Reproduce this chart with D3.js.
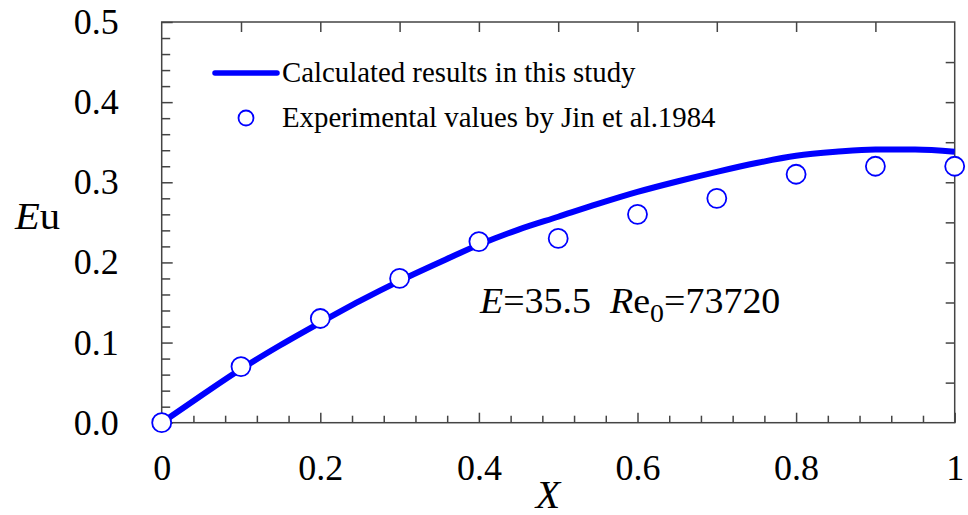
<!DOCTYPE html>
<html>
<head>
<meta charset="utf-8">
<script src="https://cdn.jsdelivr.net/npm/d3@7"></script>
</head>
<body style="margin:0">
<svg id="chart" width="968" height="515"></svg>
<script>
// ---- data ----
const calcX = [0, 0.05, 0.1, 0.15, 0.2, 0.25, 0.3, 0.35, 0.4, 0.45, 0.5, 0.55, 0.6, 0.65, 0.7, 0.75, 0.8, 0.85, 0.9, 0.95, 1.0];
const calcEu = [0, 0.034, 0.067, 0.097, 0.125, 0.152, 0.177, 0.200, 0.222, 0.241, 0.257, 0.273, 0.288, 0.301, 0.313, 0.324, 0.333, 0.338, 0.341, 0.341, 0.338];
const expX = [0, 0.1, 0.2, 0.3, 0.4, 0.5, 0.6, 0.7, 0.8, 0.9, 1.0];
const expEu = [0, 0.07, 0.13, 0.18, 0.226, 0.23, 0.26, 0.28, 0.31, 0.32, 0.32];
const xTickValues = [0, 0.2, 0.4, 0.6, 0.8, 1];
const xTickLabels = ["0", "0.2", "0.4", "0.6", "0.8", "1"];
const yTickValues = [0, 0.1, 0.2, 0.3, 0.4, 0.5];
const yTickLabels = ["0.0", "0.1", "0.2", "0.3", "0.4", "0.5"];
const legendLabels = ["Calculated results in this study", "Experimental values by Jin et al.1984"];

// ---- layout ----
const FSTYLE = "font-family:Liberation Serif";
const svg = d3.select("#chart");
const L = 161.7, R = 954.7, T = 22, B = 422.7;
const x = d3.scaleLinear().domain([0, 1]).range([L, R]);
const y = d3.scaleLinear().domain([0, 0.5]).range([B, T]);
const axisColor = "#444";
const blue = "#0000ff";

function styleAxis(g) {
  g.attr("font-family", null).attr("font-size", null);
  g.select(".domain").remove();
  g.selectAll(".tick line").attr("stroke", axisColor).attr("stroke-width", 1.5);
  g.selectAll(".tick text").attr("fill", "#000").attr("style", FSTYLE).attr("font-size", 36);
}

// minor ticks
const near = (v, arr) => arr.some(a => Math.abs(a - v) < 1e-9);
const xMinor = d3.range(0, 1.0001, 0.04).map(v => +v.toFixed(2)).filter(v => !near(v, xTickValues));
const yMinor = d3.range(0, 0.5001, 0.02).map(v => +v.toFixed(2)).filter(v => !near(v, yTickValues));

// bottom axis major
svg.append("g").attr("transform", `translate(0,${B})`)
  .call(d3.axisBottom(x).tickValues(xTickValues).tickFormat((d, i) => xTickLabels[i])
    .tickSizeInner(-10).tickSizeOuter(0).tickPadding(32))
  .call(styleAxis);
// bottom minor
svg.append("g").attr("transform", `translate(0,${B})`)
  .call(d3.axisBottom(x).tickValues(xMinor).tickFormat("").tickSizeInner(-7).tickSizeOuter(0))
  .call(styleAxis);
// left axis major
svg.append("g").attr("transform", `translate(${L},0)`)
  .call(d3.axisLeft(y).tickValues(yTickValues).tickFormat((d, i) => yTickLabels[i])
    .tickSizeInner(-11).tickSizeOuter(0).tickPadding(43))
  .call(styleAxis);
// left minor
svg.append("g").attr("transform", `translate(${L},0)`)
  .call(d3.axisLeft(y).tickValues(yMinor).tickFormat("").tickSizeInner(-8.5).tickSizeOuter(0))
  .call(styleAxis);
// top ticks
svg.append("g").attr("transform", `translate(0,${T})`)
  .call(d3.axisTop(x).tickValues(d3.range(0.1, 0.95, 0.1)).tickFormat("").tickSizeInner(-10).tickSizeOuter(0))
  .call(styleAxis);
// right ticks
svg.append("g").attr("transform", `translate(${R},0)`)
  .call(d3.axisRight(y).tickValues(d3.range(0.05, 0.5, 0.05)).tickFormat("").tickSizeInner(-9).tickSizeOuter(0))
  .call(styleAxis);

// frame
svg.append("rect").attr("x", L).attr("y", T).attr("width", R - L).attr("height", B - T)
  .attr("fill", "none").attr("stroke", axisColor).attr("stroke-width", 1.5);

// calculated curve
const calc = calcX.map((v, i) => [v, calcEu[i]]);
svg.append("path").datum(calc)
  .attr("d", d3.line().x(d => x(d[0])).y(d => y(d[1])).curve(d3.curveMonotoneX))
  .attr("fill", "none").attr("stroke", blue).attr("stroke-width", 6).attr("stroke-linecap", "butt");

// experimental points
const exp = expX.map((v, i) => [v, expEu[i]]);
svg.append("g").selectAll("circle").data(exp).join("circle")
  .attr("cx", d => x(d[0])).attr("cy", d => y(d[1])).attr("r", 9.5)
  .attr("fill", "#fff").attr("stroke", blue).attr("stroke-width", 1.8);

// legend
const lg = svg.append("g");
lg.append("line").attr("x1", 215).attr("x2", 277).attr("y1", 73).attr("y2", 73)
  .attr("stroke", blue).attr("stroke-width", 5.5).attr("stroke-linecap", "round");
lg.append("text").attr("x", 282).attr("y", 82).attr("style", FSTYLE).attr("font-size", 28.8).text(legendLabels[0]);
lg.append("circle").attr("cx", 246).attr("cy", 118).attr("r", 7.5)
  .attr("fill", "#fff").attr("stroke", blue).attr("stroke-width", 1.8);
lg.append("text").attr("x", 282).attr("y", 127).attr("style", FSTYLE).attr("font-size", 28.8).text(legendLabels[1]);

// annotation (slightly stretched horizontally like the original export)
const ann = svg.append("text").attr("transform", "translate(480,313) scale(1.07,1)")
  .attr("style", FSTYLE).attr("font-size", 35.5);
ann.append("tspan").attr("font-style", "italic").text("E");
ann.append("tspan").text("=35.5\u00a0\u00a0");
ann.append("tspan").attr("font-style", "italic").text("R");
ann.append("tspan").text("e");
ann.append("tspan").attr("font-size", 26).attr("dy", 9).text("0");
ann.append("tspan").attr("dy", -9).text("=73720");

// axis titles
const yt = svg.append("text").attr("transform", "translate(15,229) scale(1.07,1)").attr("style", FSTYLE).attr("font-size", 38);
yt.append("tspan").attr("font-style", "italic").text("E");
yt.append("tspan").text("u");
svg.append("text").attr("x", 548).attr("y", 508).attr("style", FSTYLE).attr("font-size", 40).attr("font-style", "italic")
  .attr("text-anchor", "middle").text("X");
</script>
</body>
</html>
